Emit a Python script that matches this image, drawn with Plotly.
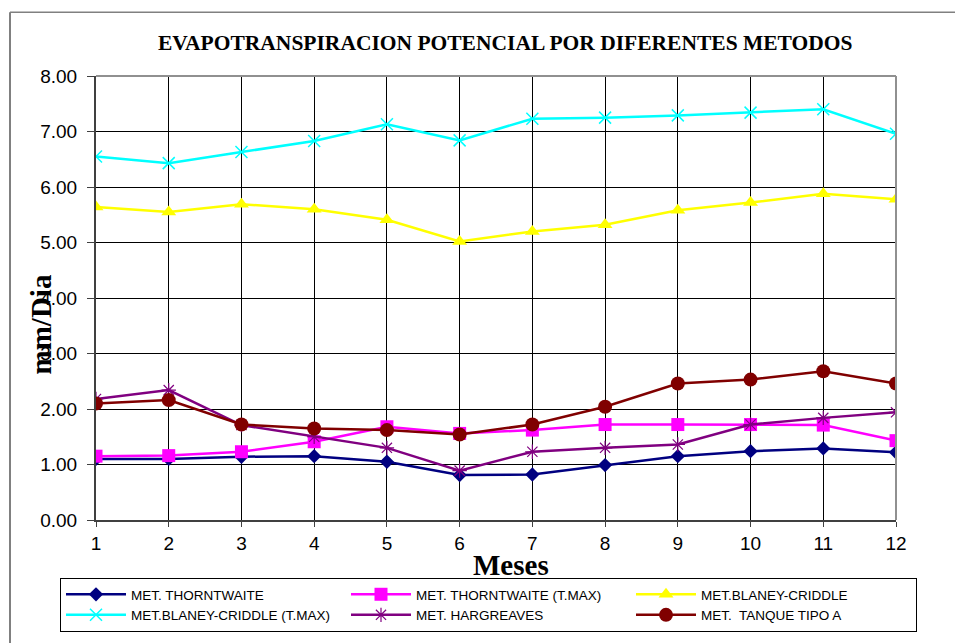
import plotly.graph_objects as go

# Monthly potential evapotranspiration (mm/day) by method
meses = [1, 2, 3, 4, 5, 6, 7, 8, 9, 10, 11, 12]

thornthwaite = [1.10, 1.10, 1.14, 1.15, 1.05, 0.81, 0.82, 0.99, 1.15, 1.24, 1.29, 1.22]
thornthwaite_tmax = [1.15, 1.16, 1.23, 1.41, 1.68, 1.56, 1.62, 1.72, 1.72, 1.72, 1.71, 1.43]
blaney_criddle = [5.64, 5.55, 5.69, 5.60, 5.41, 5.02, 5.20, 5.32, 5.58, 5.72, 5.88, 5.78]
blaney_criddle_tmax = [6.55, 6.43, 6.63, 6.83, 7.13, 6.84, 7.23, 7.25, 7.29, 7.34, 7.40, 6.96]
hargreaves = [2.18, 2.34, 1.71, 1.50, 1.30, 0.89, 1.23, 1.30, 1.36, 1.72, 1.84, 1.94]
tanque_a = [2.10, 2.16, 1.72, 1.65, 1.62, 1.54, 1.72, 2.04, 2.46, 2.53, 2.68, 2.46]

y_ticks = [0, 1, 2, 3, 4, 5, 6, 7, 8]

series = [
    ("MET. THORNTWAITE", thornthwaite, "#000080", "diamond", 11, 1),
    ("MET. THORNTWAITE (T.MAX)", thornthwaite_tmax, "#FF00FF", "square", 13, 1),
    ("MET.BLANEY-CRIDDLE", blaney_criddle, "#FFFF00", "triangle-up", 13, 1),
    ("MET.BLANEY-CRIDDLE (T.MAX)", blaney_criddle_tmax, "#00FFFF", "x-thin-open", 12, 1.5),
    ("MET. HARGREAVES", hargreaves, "#800080", "asterisk-open", 12, 1.2),
    ("MET.  TANQUE TIPO A", tanque_a, "#800000", "circle", 14, 1),
]

fig = go.Figure()
for name, vals, color, symbol, size, mlw in series:
    open_sym = symbol.endswith("open")
    fig.add_trace(go.Scatter(
        x=meses, y=vals, name=name, mode="lines+markers",
        line=dict(color=color, width=2.5),
        marker=dict(symbol=symbol, size=size, color=color,
                    line=dict(color=color, width=mlw if open_sym else 0)),
    ))

W, H = 955, 643
L, R, T, B = 96, 896, 76, 521


def px_x(p):
    return (p - L) / (R - L)


def px_y(p):
    return (B - p) / (B - T)


fig.update_layout(
    width=W, height=H,
    margin=dict(l=L, r=W - R, t=T, b=H - B, pad=0),
    paper_bgcolor="white", plot_bgcolor="white",
    showlegend=True,
    font=dict(family="Arial, Liberation Sans, sans-serif", color="black"),
    legend=dict(
        orientation="h", xref="paper", yref="paper",
        x=px_x(60), xanchor="left", y=px_y(578), yanchor="top",
        entrywidth=210, entrywidthmode="pixels", itemwidth=60,
        bgcolor="white", bordercolor="black", borderwidth=1,
        font=dict(family="Arial, Liberation Sans, sans-serif", size=13.5, color="black"),
        itemclick=False, tracegroupgap=0,
    ),
    xaxis=dict(
        range=[1, 12], tickmode="array", tickvals=meses,
        ticktext=[str(m) for m in meses],
        showgrid=True, gridcolor="black", gridwidth=1,
        showline=True, linecolor="#404040", linewidth=2,
        ticks="outside", ticklen=5, tickcolor="#404040",
        tickfont=dict(size=19, family="Arial, Liberation Sans, sans-serif"),
        zeroline=False, fixedrange=True,
    ),
    yaxis=dict(
        range=[0, 8], tickmode="array", tickvals=y_ticks,
        ticktext=[f"{v:.2f}" for v in y_ticks],
        showgrid=True, gridcolor="black", gridwidth=1,
        showline=True, linecolor="#404040", linewidth=2,
        ticks="outside", ticklen=7, tickcolor="#404040",
        ticklabelstandoff=6,
        tickfont=dict(size=19, family="Arial, Liberation Sans, sans-serif"),
        zeroline=False, fixedrange=True,
    ),
    annotations=[
        dict(text="<b>EVAPOTRANSPIRACION POTENCIAL POR DIFERENTES METODOS</b>",
             xref="paper", yref="paper", x=px_x(506), y=px_y(43),
             xanchor="center", yanchor="middle", showarrow=False,
             font=dict(family="Liberation Serif, Times New Roman, serif", size=21.5, color="black")),
        dict(text="<b>Meses</b>",
             xref="paper", yref="paper", x=px_x(511), y=px_y(566),
             xanchor="center", yanchor="middle", showarrow=False,
             font=dict(family="Liberation Serif, Times New Roman, serif", size=29, color="black")),
        dict(text="<b>mm/Dia</b>", textangle=-90,
             xref="paper", yref="paper", x=px_x(41), y=px_y(325),
             xanchor="center", yanchor="middle", showarrow=False,
             font=dict(family="Liberation Serif, Times New Roman, serif", size=29, color="black")),
    ],
    shapes=[
        # chart frame (left and top edges)
        dict(type="line", xref="paper", yref="paper",
             x0=px_x(10), x1=px_x(10), y0=px_y(12), y1=px_y(H + 5),
             line=dict(color="#808080", width=2)),
        dict(type="line", xref="paper", yref="paper",
             x0=px_x(10), x1=px_x(W + 5), y0=px_y(12), y1=px_y(12),
             line=dict(color="#808080", width=1.5)),
        # plot area frame (top and right edges)
        dict(type="line", xref="paper", yref="paper",
             x0=0, x1=1, y0=1, y1=1,
             line=dict(color="#909090", width=2)),
        dict(type="line", xref="paper", yref="paper",
             x0=1, x1=1, y0=0, y1=1,
             line=dict(color="#909090", width=2)),
    ],
)

fig.write_html("out.html")
